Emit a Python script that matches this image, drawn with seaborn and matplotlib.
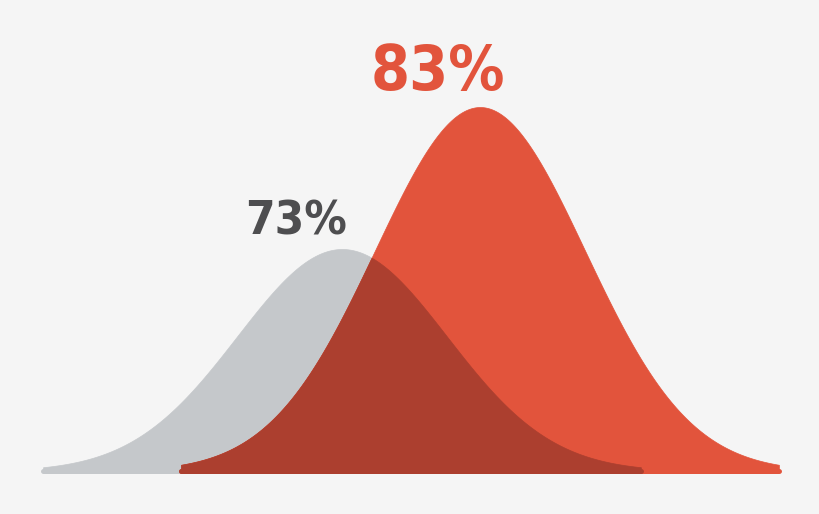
import numpy as np
import pandas as pd
import matplotlib
matplotlib.use("Agg")
import matplotlib.pyplot as plt
from matplotlib import font_manager
import seaborn as sns

# --- data ---
labels = ["73%", "83%"]
means = [73, 83]
sds = [7.6, 7.6]
peaks = [0.61, 1.0]

BG = "#F5F5F5"
GRAY = "#C5C8CB"
RED = "#E2543C"
DARK = "#AC3F2F"
TEXT_COLORS = ["#4E4E50", RED]
CUT = 2.85

sns.set_theme(style="white")
plt.rcParams['font.family'] = ['DejaVu Sans']


def pick_condensed_bold():
    # look for a narrow / condensed bold face among installed fonts
    best = None
    for f in font_manager.fontManager.ttflist:
        name = (f.name + " " + f.fname).lower()
        narrow = ("narrow" in name or "condensed" in name or f.stretch in ("condensed", "semi-condensed"))
        bold = f.weight in ("bold", 700) or (isinstance(f.weight, int) and f.weight >= 700) or "bold" in name
        if not (narrow and bold):
            continue
        if "italic" in name or "oblique" in name or f.style != "normal":
            continue
        if "extra" in name or "semibold" in name or "black" in name:
            continue
        score = 0
        if "liberation" in name:
            score = 3
        elif "noto" in name and "semicondensed" not in name:
            score = 2
        elif "dejavu" in name:
            score = 1
        if best is None or score > best[0]:
            best = (score, f.fname)
    if best:
        return font_manager.FontProperties(fname=best[1])
    return font_manager.FontProperties(family="DejaVu Sans", weight="bold", stretch="condensed")


fp = pick_condensed_bold()

fig = plt.figure(figsize=(8.2, 5.14), dpi=100, facecolor=BG)
ax = fig.add_axes([0, 0, 1, 1])
ax.set_facecolor(BG)

curves = []
for m, s, p in zip(means, sds, peaks):
    x = np.linspace(m - CUT * s, m + CUT * s, 600)
    y = p * np.exp(-0.5 * ((x - m) / s) ** 2)
    curves.append(pd.DataFrame({"x": x, "y": y}))

# filled bells
for df, col in zip(curves, [GRAY, RED]):
    ax.fill_between(df["x"], 0, df["y"], facecolor=col, edgecolor=col, lw=0.5)

# overlap region (darker)
gx, gy = curves[0]["x"].values, curves[0]["y"].values
rx, ry = curves[1]["x"].values, curves[1]["y"].values
ox = np.linspace(rx.min(), gx.max(), 600)
oy = np.minimum(np.interp(ox, gx, gy), np.interp(ox, rx, ry))
ax.fill_between(ox, 0, oy, facecolor=DARK, edgecolor=DARK, lw=0.5)

# baseline strips with rounded ends
strips = pd.DataFrame({
    "x": [gx.min(), gx.max(), rx.min(), rx.max(), rx.min(), gx.max()],
    "y": [0] * 6,
    "part": ["gray", "gray", "red", "red", "overlap", "overlap"],
})
sns.lineplot(data=strips, x="x", y="y", hue="part",
             palette={"gray": GRAY, "red": RED, "overlap": DARK},
             lw=3.6, solid_capstyle="round", legend=False, ax=ax)

# percentage labels
ax.annotate(labels[0], xy=(means[0], peaks[0]), xytext=(-46, 14), textcoords="offset pixels",
            ha="center", va="baseline", fontproperties=fp, fontsize=34, color=TEXT_COLORS[0])
ax.annotate(labels[1], xy=(means[1], peaks[1]), xytext=(-42, 17), textcoords="offset pixels",
            ha="center", va="baseline", fontproperties=fp, fontsize=45, color=TEXT_COLORS[1])

ax.set_xlim(48.22, 107.64)
ax.set_ylim(-0.118, 1.294)
ax.axis("off")

fig.savefig("out.png", dpi=100, facecolor=BG)
